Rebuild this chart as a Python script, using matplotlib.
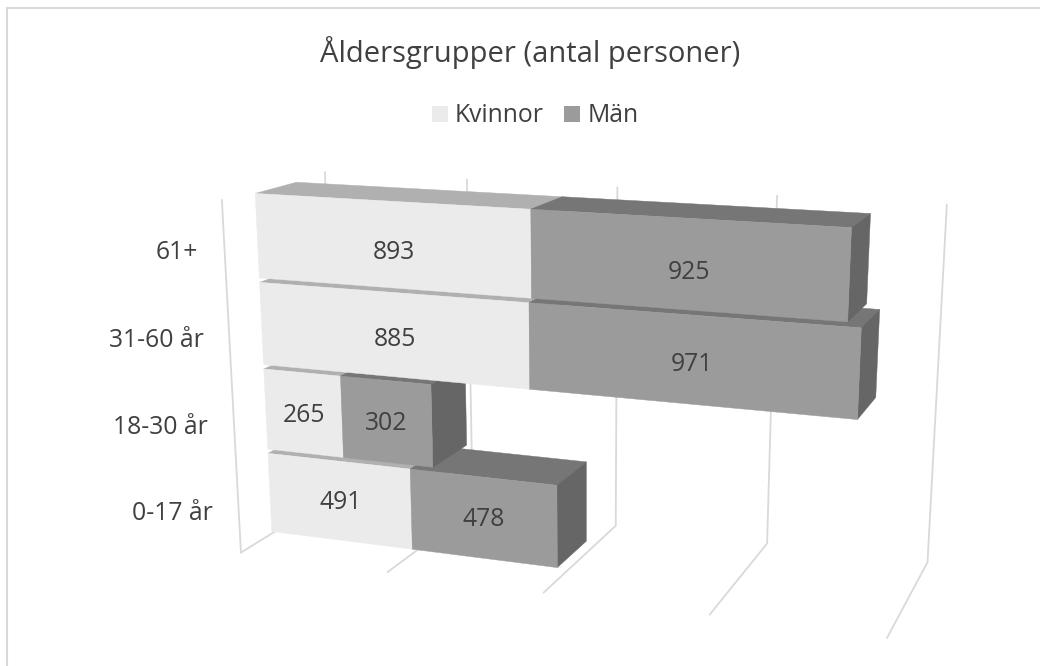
import numpy as np
import matplotlib
matplotlib.use("Agg")
import matplotlib.pyplot as plt
from matplotlib.patches import Polygon, Rectangle

# --- data ---
title = "Åldersgrupper (antal personer)"
categories = ["0-17 år", "18-30 år", "31-60 år", "61+"]
kvinnor = [491, 265, 885, 893]
man = [478, 302, 971, 925]
series_names = ["Kvinnor", "Män"]
grid_values = [0, 500, 1000, 1500, 2000]

# --- style ---
TEXT = "#404040"
GRID = "#d9d9d9"
FACES = {"Kvinnor": ("#ebebeb", "#b0b0b0", "#8f8f8f"),
         "Män": ("#9b9b9b", "#767676", "#666666")}
FONT = "Open Sans"
FS = 17.8

# --- camera calibration ---
# wall points: (value, height, depth, px, py)
wall_pts = [
    (0, 0, 0, 241, 553), (500, 0, 0, 387, 572), (1000, 0, 0, 543, 593),
    (1500, 0, 0, 709, 615), (2000, 0, 0, 887, 638),
    (1000, 0, 1, 616, 526), (1500, 0, 1, 767, 543), (2000, 0, 1, 928, 562),
    (0, 4, 1, 325, 172), (500, 4, 1, 467, 179), (1000, 4, 1, 617, 187),
    (1500, 4, 1, 777, 196), (2000, 4, 1, 947, 204), (0, 4, 0, 222, 199),
]
# bar points: (value, category, is_top, is_back, px, py)
bar_pts = [
    (0, 3, 1, 0, 255, 193.5), (0, 3, 0, 0, 259, 278),
    (893, 3, 1, 0, 531, 209), (893, 3, 0, 0, 532, 298),
    (1818, 3, 1, 0, 851, 228), (1818, 3, 0, 0, 848, 322),
    (1818, 3, 1, 1, 870, 214), (1818, 3, 0, 1, 867, 306),
    (0, 3, 1, 1, 295, 183), (893, 3, 1, 1, 562, 198),
    (0, 2, 1, 0, 260, 283), (0, 2, 0, 0, 264, 366),
    (885, 2, 1, 0, 529, 303), (885, 2, 0, 0, 530, 389),
    (1856, 2, 1, 0, 862, 327), (1856, 2, 0, 0, 858, 418),
    (1856, 2, 1, 1, 879, 310), (1856, 2, 0, 1, 876, 398),
    (0, 1, 1, 0, 264, 369), (0, 1, 0, 0, 268, 449),
    (265, 1, 1, 0, 341, 376), (265, 1, 0, 0, 343, 457),
    (567, 1, 1, 0, 432, 382), (567, 1, 0, 0, 433, 467),
    (567, 1, 0, 1, 467, 445),
    (0, 0, 1, 0, 268, 454), (0, 0, 0, 0, 272, 532),
    (491, 0, 1, 0, 411, 469), (491, 0, 0, 0, 412, 549),
    (969, 0, 1, 0, 557, 485), (969, 0, 0, 0, 557, 567),
    (969, 0, 1, 1, 586, 462), (969, 0, 0, 1, 586, 541),
]


def fit_camera(d0, d1, gap):
    pts = list(wall_pts)
    for v, c, is_top, is_back, px, py in bar_pts:
        pts.append((v, c + (1 - gap / 2 if is_top else gap / 2), d1 if is_back else d0, px, py))
    A, b = [], []
    for v, h, d, px, py in pts:
        V = v / 1000
        A.append([V, h, d, 1, 0, 0, 0, 0, -px * V, -px * h, -px * d]); b.append(px)
        A.append([0, 0, 0, 0, V, h, d, 1, -py * V, -py * h, -py * d]); b.append(py)
    A, b = np.array(A, float), np.array(b, float)
    sol = np.linalg.lstsq(A, b, rcond=None)[0]
    P = np.append(sol, 1.0).reshape(3, 4)
    err = 0.0
    for v, h, d, px, py in pts:
        x, y, w = P @ np.array([v / 1000, h, d, 1.0])
        err += (x / w - px) ** 2 + (y / w - py) ** 2
    return err, P


best = None
for d0 in np.arange(0.10, 0.45, 0.025):
    for d1 in np.arange(0.55, 0.95, 0.025):
        for gap in (0.03, 0.04, 0.05, 0.06, 0.07, 0.08):
            e, cam = fit_camera(d0, d1, gap)
            if best is None or e < best[0]:
                best = (e, cam, d0, d1, gap)
_, P, D0, D1, GAP = best


def project(v, h, d):
    x, y, w = P @ np.array([v / 1000, h, d, 1.0])
    return x / w, y / w


fig = plt.figure(figsize=(10.4, 6.66), dpi=100)
ax = fig.add_axes([0, 0, 1, 1])
ax.set_xlim(0, 1040)
ax.set_ylim(666, 0)
ax.axis("off")

# chart frame: only top and left edges show in the crop
ax.plot([7, 7, 1040], [666, 8, 8], color=GRID, lw=1.5, solid_joinstyle="miter")

# walls / floor gridlines
H = len(categories)
for g in grid_values:
    pts = [project(g, 0, 0), project(g, 0, 1), project(g, H, 1)]
    ax.plot(*zip(*pts), color=GRID, lw=1.3, solid_joinstyle="miter", zorder=1)
ax.plot(*zip(project(0, H, 0), project(0, 0, 0)), color=GRID, lw=1.3, zorder=1)


def box(v0, v1, c, faces, z):
    lo, up = c + GAP / 2, c + 1 - GAP / 2
    front, top, side = faces
    quads = [
        ([(v0, up, D0), (v1, up, D0), (v1, up, D1), (v0, up, D1)], top),
        ([(v1, lo, D0), (v1, up, D0), (v1, up, D1), (v1, lo, D1)], side),
        ([(v0, lo, D0), (v1, lo, D0), (v1, up, D0), (v0, up, D0)], front),
    ]
    for q, col in quads:
        ax.add_patch(Polygon([project(*p) for p in q], closed=True, fc=col, ec=col, lw=0.3, zorder=z))


value_dx = [1, 0, 3, 3]
value_dy = [2, 2, 5, 8]
for i, cat in enumerate(categories):
    z = 2 + i
    box(0, kvinnor[i], i, FACES["Kvinnor"], z)
    box(kvinnor[i], kvinnor[i] + man[i], i, FACES["Män"], z)
    for v0, val in ((0, kvinnor[i]), (kvinnor[i], man[i])):
        x, y = project(v0 + val / 2, i + 0.5, D0)
        ax.text(x + value_dx[i], y + value_dy[i], str(val), ha="center", va="center", fontsize=FS,
                color=TEXT, family=FONT, zorder=20)

cat_dy = [9, 9, 10, 13]
for i, cat in enumerate(categories):
    wx, wy = project(0, i + 0.5, 0)
    ax.text(wx - 26, wy + cat_dy[i], cat, ha="right", va="baseline", fontsize=FS, color=TEXT, family=FONT)

ax.text(530, 62, title, ha="center", va="baseline", fontsize=21, color=TEXT, family=FONT)

for name, sx, tx in zip(series_names, [432, 564], [455, 588]):
    ax.add_patch(Rectangle((sx, 106), 16, 16, fc=FACES[name][0], ec="none"))
    ax.text(tx, 122, name, ha="left", va="baseline", fontsize=FS, color=TEXT, family=FONT)

fig.savefig("out.png", dpi=100)
